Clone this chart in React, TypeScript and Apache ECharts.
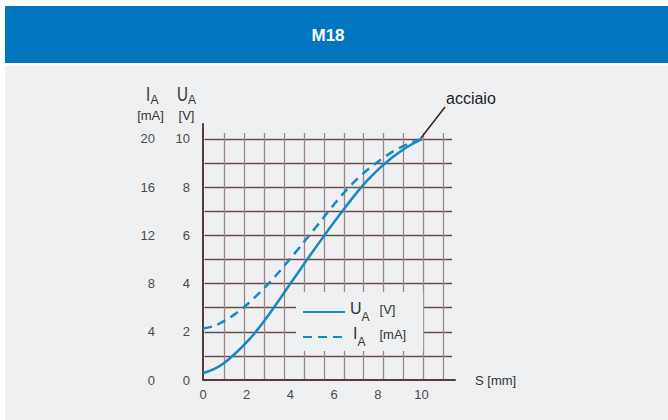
import React, { useEffect, useRef } from "react";
import * as echarts from "echarts";

// Stroke S [mm]
const S_MM = [0, 0.5, 1, 1.5, 2, 2.5, 3, 3.5, 4, 4.5, 5, 5.5, 6, 6.5, 7, 7.5, 8, 8.5, 9, 9.5, 10];
// Output voltage U_A [V]
const U_A_V = [0.28, 0.45, 0.73, 1.12, 1.57, 2.1, 2.7, 3.34, 4.0, 4.65, 5.3, 5.93, 6.55, 7.15, 7.73, 8.26, 8.72, 9.12, 9.46, 9.75, 9.98];
// Output current I_A [mA]
const I_A_MA = [4.28, 4.48, 4.92, 5.52, 6.24, 7.08, 8.0, 9.0, 10.08, 11.18, 12.3, 13.44, 14.58, 15.64, 16.58, 17.4, 18.1, 18.74, 19.26, 19.68, 20];

const TITLE = "M18";
const MATERIAL = "acciaio";
const X_NAME = "S [mm]";

const BLUE = "#1688c3";
const FONT = "'Liberation Sans', Arial, Helvetica, sans-serif";
const TXT = "#333333";
const LBL = "#4a4a4a";

export default function App() {
  const ref = useRef<HTMLDivElement>(null);
  useEffect(() => {
    document.body.style.margin = "0";
    const chart = echarts.init(ref.current!, null, { renderer: "svg", width: 668, height: 420 });

    const rich: any = {
      m: { fontSize: 16, lineHeight: 16, padding: [0, 0, 8, 0], color: TXT, fontFamily: FONT },
      mi: { fontSize: 16, lineHeight: 16, padding: [0, 0, 8, 3], color: TXT, fontFamily: FONT },
      s: { fontSize: 12, lineHeight: 12, padding: [10, 0, 0, 0], color: TXT, fontFamily: FONT },
      u: { fontSize: 13, lineHeight: 16, padding: [1, 0, 7, 10], color: TXT, fontFamily: FONT },
      u2: { fontSize: 13, lineHeight: 16, padding: [1, 0, 7, 14], color: TXT, fontFamily: FONT },
    };

    const option: any = {
      animation: false,
      backgroundColor: "#ffffff",
      textStyle: { fontFamily: FONT },
      graphic: [
        { type: "rect", z: -10, shape: { x: 5, y: 6, width: 663, height: 57 }, style: { fill: "#0076bf" } },
        { type: "rect", z: -10, shape: { x: 5, y: 66, width: 663, height: 354 }, style: { fill: "#eff0f2" } },
        {
          type: "text", z: 10, x: 328, y: 35,
          style: { text: TITLE, fill: "#ffffff", font: `bold 17px ${FONT}`, align: "center", verticalAlign: "middle" },
        },
        // y-axis headers
        { type: "text", z: 10, x: 146, y: 94, scaleX: 0.72, style: { text: "I", fill: TXT, font: `21px ${FONT}`, align: "left", verticalAlign: "middle" } },
        { type: "text", z: 10, x: 150.5, y: 99.5, style: { text: "A", fill: TXT, font: `12px ${FONT}`, align: "left", verticalAlign: "middle" } },
        { type: "text", z: 10, x: 150.5, y: 115, style: { text: "[mA]", fill: TXT, font: `13px ${FONT}`, align: "center", verticalAlign: "middle" } },
        { type: "text", z: 10, x: 177, y: 94, scaleX: 0.72, style: { text: "U", fill: TXT, font: `21px ${FONT}`, align: "left", verticalAlign: "middle" } },
        { type: "text", z: 10, x: 188, y: 99.5, style: { text: "A", fill: TXT, font: `12px ${FONT}`, align: "left", verticalAlign: "middle" } },
        { type: "text", z: 10, x: 186.5, y: 115, style: { text: "[V]", fill: TXT, font: `13px ${FONT}`, align: "center", verticalAlign: "middle" } },
        // material annotation
        { type: "line", z: 10, shape: { x1: 421, y1: 138, x2: 445, y2: 107 }, style: { stroke: "#3b2020", lineWidth: 1.5 } },
        { type: "text", z: 10, x: 446, y: 98, style: { text: MATERIAL, fill: "#222222", font: `16px ${FONT}`, align: "left", verticalAlign: "middle" } },
      ],
      grid: [
        { left: 203, top: 124, width: 252, height: 256 },
        { left: 204.5, top: 133, width: 247.5, height: 247 },
      ],
      xAxis: [
        {
          type: "value", gridIndex: 0, min: 0, max: 11.53, interval: 2,
          axisLine: { show: true, lineStyle: { color: "#5a3b3b", width: 2 } },
          axisTick: { show: false },
          splitLine: { show: false },
          axisLabel: { color: LBL, fontSize: 13, margin: 8, formatter: (v: number) => (v <= 10 ? String(v) : "") },
          name: X_NAME, nameLocation: "end", nameGap: 20,
          nameTextStyle: { color: TXT, fontSize: 13 },
        },
        {
          type: "value", gridIndex: 1, min: 0, max: 12.44, interval: 1,
          axisLine: { show: false }, axisTick: { show: false }, axisLabel: { show: false },
          splitLine: { show: true, showMinLine: false, showMaxLine: false, lineStyle: { color: "#9c8686", width: 1.3 } },
        },
      ],
      yAxis: [
        {
          type: "value", gridIndex: 0, min: 0, max: 10.62, interval: 2,
          axisLine: { show: true, lineStyle: { color: "#5a3b3b", width: 2 } },
          axisTick: { show: false },
          splitLine: { show: false },
          axisLabel: { color: LBL, fontSize: 13, margin: 13, formatter: (v: number) => (v <= 10 ? String(v) : "") },
        },
        {
          type: "value", gridIndex: 0, min: 0, max: 21.24, interval: 4, position: "left", offset: 35,
          axisLine: { show: false }, axisTick: { show: false }, splitLine: { show: false },
          axisLabel: { color: LBL, fontSize: 13, margin: 13, formatter: (v: number) => (v <= 20 ? String(v) : "") },
        },
        {
          type: "value", gridIndex: 1, min: 0, max: 10.25, interval: 1,
          axisLine: { show: false }, axisTick: { show: false }, axisLabel: { show: false },
          splitLine: { show: true, showMinLine: false, showMaxLine: false, lineStyle: { color: "#6a4c4c", width: 1.3 } },
        },
      ],
      legend: {
        orient: "vertical", left: 296, top: 292,
        padding: [8, 17, 2, 6], itemGap: 1, itemWidth: 42, itemHeight: 12,
        backgroundColor: "#eff0f2",
        itemStyle: { opacity: 0, borderWidth: 0 },
        data: ["UA", "IA"],
        formatter: (name: string) => (name === "UA" ? "{m|U}{s|A}{u|[V]}" : "{mi|I}{s|A}{u2|[mA]}"),
        textStyle: { rich },
      },
      series: [
        {
          name: "UA", type: "line", xAxisIndex: 0, yAxisIndex: 0, smooth: 0.3, symbol: "none", z: 5,
          lineStyle: { color: BLUE, width: 2.5, type: "solid" }, itemStyle: { color: BLUE },
          data: S_MM.map((s, i) => [s, U_A_V[i]]),
        },
        {
          name: "IA", type: "line", xAxisIndex: 0, yAxisIndex: 1, smooth: 0.3, symbol: "none", z: 5,
          lineStyle: { color: BLUE, width: 2.5, type: [9, 6] }, itemStyle: { color: BLUE },
          data: S_MM.map((s, i) => [s, I_A_MA[i]]),
        },
      ],
    };
    chart.setOption(option);
    return () => chart.dispose();
  }, []);
  return <div ref={ref} style={{ width: 668, height: 420 }} />;
}
